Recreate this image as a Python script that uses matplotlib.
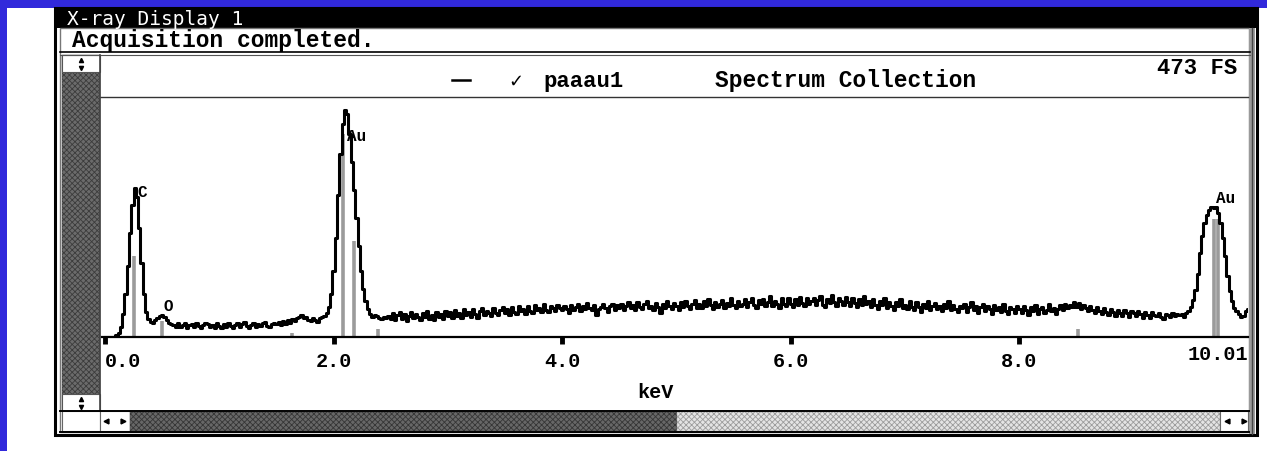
import matplotlib
matplotlib.use("Agg")
import matplotlib.pyplot as plt
import numpy as np
from matplotlib.patches import Rectangle

# spectrum: counts per 0.02 keV channel, 0.00 .. 10.00 keV
kev_step = 0.02
counts = [
    0, 0, 0, 0, 0, 3, 8, 20, 45, 85, 140, 205, 260, 293, 275, 215, 145, 85, 50, 35, 30, 28, 33, 38, 41,
    43, 40, 34, 28, 26, 24, 20, 27, 19, 24, 28, 18, 23, 26, 19, 27, 22, 17, 23, 28, 25, 19, 24, 18, 27,
    21, 17, 26, 20, 28, 22, 18, 23, 27, 19, 25, 29, 21, 18, 24, 28, 20, 25, 21, 27, 30, 22, 19, 25, 28,
    25, 30, 24, 32, 26, 33, 28, 36, 31, 38, 40, 43, 37, 39, 34, 32, 37, 33, 30, 38, 40, 42, 48, 60, 85,
    130, 195, 280, 360, 420, 448, 440, 400, 345, 290, 235, 180, 130, 95, 70, 55, 45, 40, 44, 42, 38, 36, 40, 37, 41,
    36, 47, 33, 44, 49, 35, 45, 31, 42, 50, 37, 46, 40, 33, 48, 39, 52, 35, 44, 34, 49, 40, 46, 36, 51,
    41, 50, 37, 53, 42, 47, 38, 55, 44, 49, 40, 56, 46, 38, 52, 57, 43, 51, 47, 41, 58, 48, 44, 53, 59,
    47, 56, 43, 60, 50, 45, 61, 51, 56, 46, 62, 52, 48, 64, 53, 58, 49, 65, 54, 50, 62, 57, 52, 64, 58,
    53, 62, 56, 48, 64, 54, 59, 66, 52, 61, 55, 67, 57, 53, 63, 44, 55, 60, 65, 57, 50, 62, 66, 54, 63,
    57, 66, 54, 61, 69, 57, 63, 53, 68, 60, 55, 65, 71, 57, 62, 53, 67, 60, 47, 65, 57, 70, 62, 55, 67,
    61, 54, 68, 59, 71, 62, 56, 65, 73, 58, 66, 57, 70, 61, 75, 63, 56, 69, 60, 65, 72, 58, 67, 62, 76,
    64, 57, 71, 62, 66, 74, 59, 68, 77, 63, 57, 72, 65, 75, 61, 68, 80, 62, 71, 65, 58, 76, 66, 62, 77,
    66, 59, 74, 64, 79, 67, 61, 76, 65, 70, 77, 63, 72, 81, 64, 60, 75, 67, 82, 69, 62, 77, 71, 63, 79,
    69, 61, 76, 67, 59, 74, 64, 80, 66, 71, 60, 75, 64, 56, 70, 63, 77, 58, 68, 61, 54, 69, 62, 74, 57,
    64, 55, 70, 60, 53, 68, 59, 50, 65, 57, 71, 53, 62, 67, 55, 61, 51, 66, 58, 70, 54, 63, 56, 49, 62,
    57, 65, 50, 60, 68, 53, 62, 48, 59, 66, 51, 61, 56, 46, 63, 54, 59, 49, 66, 52, 45, 60, 55, 47, 62,
    56, 48, 61, 53, 44, 59, 51, 63, 46, 56, 60, 48, 54, 65, 51, 58, 46, 56, 63, 53, 66, 57, 64, 59, 68,
    60, 67, 55, 63, 58, 51, 62, 54, 47, 59, 52, 45, 57, 50, 43, 55, 49, 42, 54, 47, 41, 53, 48, 40, 51,
    48, 41, 52, 46, 38, 50, 44, 37, 49, 43, 42, 48, 40, 36, 46, 43, 39, 47, 41, 45, 44, 46, 40, 48, 52,
    60, 72, 92, 125, 165, 200, 225, 240, 250, 256, 254, 256, 245, 225, 195, 160, 120, 90, 70, 58, 52, 45, 40, 42, 52,
    56,
]
full_scale = 473

# element marker lines (keV, height in counts)
marker_kev = [0.25, 0.50, 1.64, 2.08, 2.18, 2.39, 8.51, 9.70, 9.74]
marker_cts = [160, 32, 8, 400, 190, 16, 16, 232, 232]

# peak labels
peak_names = ["C", "O", "Au", "Au"]
peak_kev = [0.28, 0.51, 2.12, 9.72]
peak_cts = [286, 62, 398, 274]

tick_kev = [0, 2, 4, 6, 8]
tick_text = ["0.0", "2.0", "4.0", "6.0", "8.0"]

W, H = 1267, 452
mono = "Liberation Mono"

fig = plt.figure(figsize=(W / 100, H / 100), dpi=100)
fig.patch.set_facecolor("white")

# window chrome drawn in pixel coordinates
bg = fig.add_axes([0, 0, 1, 1])
bg.set_xlim(0, W)
bg.set_ylim(H, 0)
bg.axis("off")

blue = "#3129db"
bg.add_patch(Rectangle((0, 0), W, 9, color=blue, lw=0))
bg.add_patch(Rectangle((0, 0), 7, H, color=blue, lw=0))

# title bar
bg.add_patch(Rectangle((55, 9), 1202, 20, color="black", lw=0))
bg.text(67, 19.5, "X-ray Display 1", color="white", fontsize=14,
        family="DejaVu Sans Mono", va="center", ha="left")

# status row
bg.text(72, 41, "Acquisition completed.", fontsize=16.5, family=mono,
        weight="bold", va="center", ha="left")
bg.plot([60, 1250], [53, 53], color="black", lw=1.2)
bg.plot([60, 1250], [55.5, 55.5], color="#555555", lw=0.8)

# outer frame (double line)
bg.add_patch(Rectangle((55, 9), 1202, 427, fill=False, ec="black", lw=2.2))
bg.add_patch(Rectangle((60, 29), 1189, 404, fill=False, ec="#777777", lw=1.0))
bg.add_patch(Rectangle((1249, 29), 6, 406, color="#9a9a9a", lw=0))
bg.plot([1252, 1252], [29, 435], color="#444444", lw=1)

# header strip of the plot
bg.plot([100, 1248], [98, 98], color="#333333", lw=1.0)
bg.plot([452, 470], [81, 81], color="black", lw=1.8)
bg.text(508, 82, "\u2713", fontsize=13, family="DejaVu Sans", weight="bold",
        va="center", ha="left")
bg.text(543, 81, "paaau1", fontsize=16, family=mono, weight="bold", va="center", ha="left")
bg.text(715, 81, "Spectrum Collection", fontsize=16.5, family=mono, weight="bold",
        va="center", ha="left")
bg.text(1237, 69, "473 FS", fontsize=16, family=mono, weight="bold", va="center", ha="right")

plt.rcParams["hatch.linewidth"] = 0.6

# vertical scroll bar
bg.add_patch(Rectangle((62, 56), 38, 356, facecolor="#6b6b6b", hatch="xxxxxx",
                       edgecolor="#3c3c3c", lw=0.3))
for top in (56, 395):
    bg.add_patch(Rectangle((62, top), 38, 17, facecolor="white", edgecolor="#555555", lw=0.8))
    bg.plot([81], [top + 4.5], marker="^", ms=3, color="black")
    bg.plot([81], [top + 12.5], marker="v", ms=3, color="black")
bg.plot([100, 100], [56, 412], color="#444444", lw=1.2)

# horizontal scroll bar
bg.plot([60, 1249], [412, 412], color="black", lw=1.4)
bg.add_patch(Rectangle((62, 412), 38, 20, facecolor="white", edgecolor="#666666", lw=0.8))
bg.add_patch(Rectangle((100, 412), 30, 20, facecolor="white", edgecolor="#666666", lw=0.8))
bg.add_patch(Rectangle((130, 413), 547, 19, facecolor="#676767", hatch="xxxxxx",
                       edgecolor="#363636", lw=0.3))
bg.add_patch(Rectangle((677, 413), 543, 19, facecolor="#e4e4e4", hatch="xxxxxx",
                       edgecolor="#9c9c9c", lw=0.3))
bg.add_patch(Rectangle((1220, 412), 28, 20, facecolor="white", edgecolor="#666666", lw=0.8))
for xa in (106, 1227):
    bg.plot([xa], [422], marker="<", ms=3.5, color="black")
    bg.plot([xa + 17], [422], marker=">", ms=3.5, color="black")
bg.plot([60, 1249], [432.5, 432.5], color="black", lw=1.4)

# spectrum axes
x0, x1, ytop, ybase = 102, 1248, 98, 338
ax = fig.add_axes([x0 / W, (H - ybase) / H, (x1 - x0) / W, (ybase - ytop) / H])
ax.patch.set_alpha(0)
kev = np.arange(len(counts)) * kev_step
ax.vlines(marker_kev, 0, marker_cts, color="#9b9b9b", lw=2.6, zorder=1)
ax.step(kev, counts, where="mid", color="black", lw=2.2, zorder=2)
for name, e, c in zip(peak_names, peak_kev, peak_cts):
    ax.text(e, c, name, fontsize=11.5, family=mono, weight="bold", va="center", ha="left",
            zorder=3)

ax.set_xlim(-0.026, 10.0)
ax.set_ylim(0, full_scale)
for s in ("top", "left", "right"):
    ax.spines[s].set_visible(False)
ax.spines["bottom"].set_linewidth(1.6)
ax.set_yticks([])
ax.set_xticks(tick_kev)
ax.set_xticklabels(tick_text, family=mono, weight="bold", fontsize=14.5)
ax.tick_params(axis="x", direction="out", length=5, width=3.5, pad=5)
ax.get_xticklabels()[0].set_ha("left")
ax.text(1.0, -0.067, "10.01", transform=ax.transAxes, ha="right", va="center",
        family=mono, weight="bold", fontsize=14.5)
ax.set_xlabel("keV", family=mono, weight="bold", fontsize=14.5, labelpad=12)
ax.xaxis.set_label_coords((655 - x0) / (x1 - x0), -(383 - ybase) / (ybase - ytop))

fig.savefig("out.png", dpi=100)
